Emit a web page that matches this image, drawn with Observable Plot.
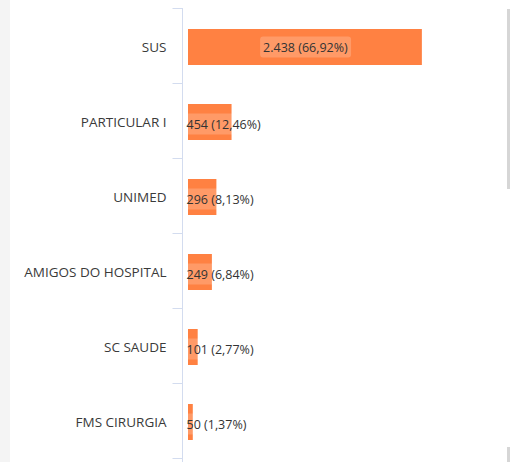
<!DOCTYPE html>
<html>
<head>
<meta charset="utf-8">
<script src="https://cdn.jsdelivr.net/npm/d3@7"></script>
<script src="https://cdn.jsdelivr.net/npm/@observablehq/plot@0.6"></script>
<style>
  html, body { margin: 0; padding: 0; background: #fff; }
  #wrap { position: relative; width: 510px; height: 462px; overflow: hidden; }
  #strip { position: absolute; left: 0; top: 0; width: 10px; height: 462px; background: #f4f4f4; }
  #scroll1 { position: absolute; left: 507px; top: 9px; width: 3px; height: 180px; background: #d6d6d6; }
  #scroll2 { position: absolute; left: 507px; top: 447px; width: 3px; height: 15px; background: #d6d6d6; }
  #chart { position: absolute; left: 0; top: 0; }
</style>
</head>
<body>
<div id="wrap">
  <div id="strip"></div>
  <div id="chart"></div>
  <div id="scroll1"></div>
  <div id="scroll2"></div>
</div>
<script>
const categories = ["SUS", "PARTICULAR I", "UNIMED", "AMIGOS DO HOSPITAL", "SC SAUDE", "FMS CIRURGIA"];
const values = [2438, 454, 296, 249, 101, 50];
const percents = [66.92, 12.46, 8.13, 6.84, 2.77, 1.37];

const fmtInt = v => v.toLocaleString("pt-BR");
const fmtPct = p => p.toFixed(2).replace(".", ",") + "%";

const data = categories.map((c, i) => ({
  cat: c,
  value: values[i],
  label: `${fmtInt(values[i])} (${fmtPct(percents[i])})`,
  inside: values[i] > 1000
}));

const font = "'Open Sans', 'Noto Sans', sans-serif";

// boundary ticks and axis line drawn from the band scale
function boundaryAxis(index, scales, values, dims) {
  const y = scales.y;
  const step = y.step();
  const [r0] = y.range();
  const g = d3.create("svg:g");
  const x0 = dims.marginLeft - 5.5;
  g.append("line")
    .attr("x1", x0).attr("x2", x0)
    .attr("y1", dims.marginTop).attr("y2", dims.height - dims.marginBottom)
    .attr("stroke", "#d3dcef");
  for (let i = 0; i <= categories.length; i++) {
    const yy = Math.round(r0 + i * step) + 0.5;
    g.append("line")
      .attr("x1", x0 - 10).attr("x2", x0)
      .attr("y1", yy).attr("y2", yy)
      .attr("stroke", "#d3dcef");
  }
  return g.node();
}

const chart = Plot.plot({
  width: 510,
  height: 462,
  marginLeft: 188,
  marginRight: 63,
  marginTop: 8,
  marginBottom: 0,
  style: { fontFamily: font, background: "transparent" },
  x: { domain: [0, 2700], axis: null },
  y: { domain: categories, paddingInner: 0.52, paddingOuter: 0.26, label: null },
  marks: [
    Plot.axisY({ tickSize: 0, tickPadding: 22, fontSize: 13.5, fill: "#3a3a3a", label: null, dy: 0.5 }),
    boundaryAxis,
    Plot.barX(data, { x: "value", y: "cat", fill: "#ff8142" }),
    Plot.text(data.filter(d => d.inside), {
      x: d => d.value / 2, y: "cat", text: "label",
      fontSize: 12.5, fill: "#333", textAnchor: "middle"
    }),
    Plot.text(data.filter(d => !d.inside), {
      x: 0, y: "cat", text: "label", dx: -2, dy: 2,
      fontSize: 12.5, fill: "#333", textAnchor: "start"
    })
  ]
});

document.getElementById("chart").append(chart);

// semi-transparent rounded backgrounds behind value labels
d3.select(chart).selectAll('g[aria-label="text"] text').each(function () {
  const bb = this.getBBox();
  const t = this.getAttribute("transform");
  d3.select(this.parentNode).insert("rect", () => this)
    .attr("x", bb.x - 3).attr("y", bb.y - 2)
    .attr("width", bb.width + 6).attr("height", bb.height + 4)
    .attr("rx", 3)
    .attr("transform", t)
    .attr("fill", "#fff").attr("fill-opacity", 0.2)
    .attr("stroke", "none");
});
</script>
</body>
</html>
